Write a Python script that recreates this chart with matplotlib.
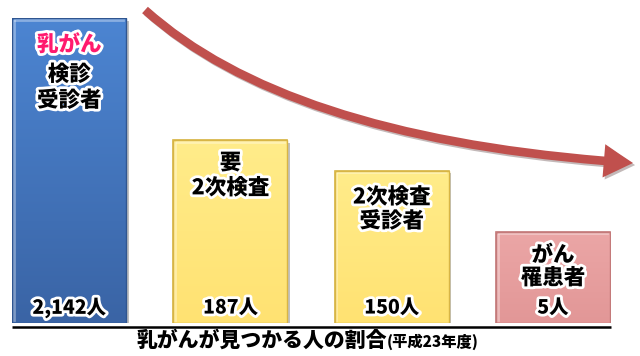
import numpy as np
import matplotlib
matplotlib.use("Agg")
import matplotlib.pyplot as plt
from matplotlib.patches import FancyArrowPatch
from matplotlib.path import Path
import matplotlib.patheffects as pe

plt.rcParams['font.family'] = ['Noto Sans CJK JP', 'DejaVu Sans']

# ---- data ----
categories = ["乳がん検診受診者", "要2次検査", "2次検査受診者", "がん罹患者"]
counts = [2142, 187, 150, 5]
count_labels = ["2,142人", "187人", "150人", "5人"]
bar_heights = [100, 60, 50, 30]          # schematic heights used in the infographic
bar_lines = [["検診", "受診者"], ["要", "2次検査"], ["2次検査", "受診者"], ["がん", "罹患者"]]
top_colors = ["#4c85d2", "#ffec8a", "#ffec8a", "#eba6a6"]
bottom_colors = ["#3a64a5", "#ffe272", "#ffe272", "#e29797"]
edge_colors = ["#2f5590", "#d8b545", "#d8b545", "#c47a7a"]
title = "乳がんが見つかる人の割合"
subtitle = "(平成23年度)"

W, H = 640, 356
fig = plt.figure(figsize=(W / 100, H / 100), dpi=100)
fig.patch.set_facecolor("white")

left_px, right_px, top_px, bottom_px = 12, 611, 18, 323
ax = fig.add_axes([left_px / W, 1 - bottom_px / H, (right_px - left_px) / W, (bottom_px - top_px) / H])
ax.set_xlim(-0.355, 3.36)
ax.set_ylim(0, 100)
ax.axis("off")

x = np.arange(len(categories))
width = 0.707
bars = ax.bar(x, bar_heights, width=width, color="none", edgecolor="none")

def hex2rgb(h):
    h = h.lstrip("#")
    return np.array([int(h[i:i + 2], 16) / 255 for i in (0, 2, 4)])

for i, b in enumerate(bars):
    x0, w, h = b.get_x(), b.get_width(), b.get_height()
    c1, c2 = hex2rgb(top_colors[i]), hex2rgb(bottom_colors[i])
    t = np.linspace(0, 1, 128)[:, None]
    grad = (c1[None, :] * (1 - t) + c2[None, :] * t)[:, None, :]
    clip = plt.Rectangle((x0, 0), w, h, facecolor="white", edgecolor=edge_colors[i], lw=1.2,
                         path_effects=[pe.SimplePatchShadow(offset=(2, -2), alpha=0.35), pe.Normal()])
    ax.add_patch(clip)
    im = ax.imshow(grad, extent=[x0, x0 + w, 0, h], aspect="auto", origin="upper", zorder=2)
    im.set_clip_path(clip)
    ax.plot([x0 + 0.01, x0 + 0.01], [1, h - 1], color="white", alpha=0.35, lw=2, zorder=3)
    ax.plot([x0 + 0.02, x0 + w - 0.02], [h - 0.6, h - 0.6], color="white", alpha=0.35, lw=2, zorder=3)
    ax.add_patch(plt.Rectangle((x0, 0), w, h, facecolor="none", edgecolor=edge_colors[i], lw=1.0, zorder=4))

stroke = [pe.withStroke(linewidth=4, foreground="white")]

label_rows = [[81.5, 73.0], [52.5, 44.3], [41.3, 33.4], [22.3, 14.8]]
for i, lines in enumerate(bar_lines):
    for line, yy in zip(lines, label_rows[i]):
        ax.text(x[i], yy, line, ha="center", va="center", fontsize=15.5, fontweight="black",
                color="black", path_effects=stroke, zorder=5)
ax.text(x[0], 91.3, "乳がん", ha="center", va="center", fontsize=15.5, fontweight="black",
        color="#ff1a6e", path_effects=stroke, zorder=5)

for i, lab in enumerate(count_labels):
    ax.text(x[i], 4.9, lab, ha="center", va="center", fontsize=14, fontweight="black",
            color="black", path_effects=stroke, zorder=5)

ov = fig.add_axes([0, 0, 1, 1], zorder=10)
ov.set_xlim(0, W)
ov.set_ylim(H, 0)
ov.axis("off")
ov.patch.set_alpha(0)

ov.plot([12, 611], [326.5, 326.5], color="black", lw=1.8, solid_capstyle="butt")

path = Path([(145, 10), (290, 140), (633, 163)], [Path.MOVETO, Path.CURVE3, Path.CURVE3])
arr = FancyArrowPatch(path=path, arrowstyle="simple,tail_width=6.2,head_width=24,head_length=21",
                      color="#c0504d", lw=0,
                      path_effects=[pe.SimplePatchShadow(offset=(1.5, -1.5), alpha=0.3), pe.Normal()])
ov.add_patch(arr)

ov.text(387, 347, title, ha="right", va="baseline", fontsize=15, fontweight="black", color="black")
ov.text(387, 347, subtitle, ha="left", va="baseline", fontsize=11, fontweight="black", color="black")

fig.savefig("out.png", dpi=100, facecolor="white")
